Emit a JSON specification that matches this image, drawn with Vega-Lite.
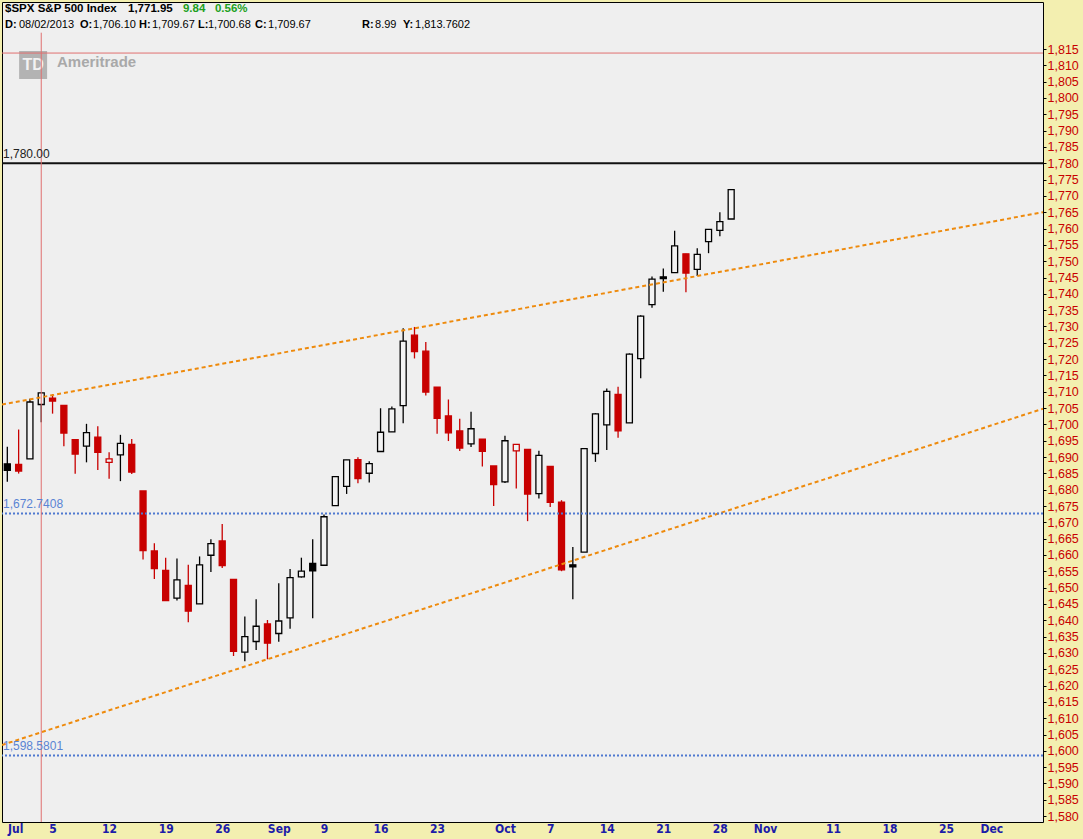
{
  "$schema": "https://vega.github.io/schema/vega-lite/v6.json",
  "autosize": {"type": "none"},
  "width": 1041,
  "height": 820,
  "padding": {"left": 2, "top": 2, "right": 40, "bottom": 17},
  "background": "#f3efb0",
  "config": {
    "view": {"fill": "#efefef", "stroke": "#000000", "strokeWidth": 1},
    "text": {"font": "Liberation Sans, Arial, sans-serif"},
    "axisY": {"labelOverlap": false, "tickCount": 50, "labelSeparation": 0, "labelFontSize": 12.5, "labelColor": "#c80000", "labelFont": "Liberation Sans, Arial, sans-serif", "labelPadding": 1, "tickSize": 3, "tickColor": "#000000"}
  },
  "datasets": {
    "candles": [
      {"i": 0, "d": "2013-07-30", "o": 1687.92, "h": 1693.19, "l": 1682.42, "c": 1685.96, "t": "up"},
      {"i": 1, "d": "2013-07-31", "o": 1687.76, "h": 1698.43, "l": 1684.94, "c": 1685.73, "t": "down"},
      {"i": 2, "d": "2013-08-01", "o": 1689.42, "h": 1707.85, "l": 1689.42, "c": 1706.87, "t": "up"},
      {"i": 3, "d": "2013-08-02", "o": 1706.10, "h": 1709.67, "l": 1700.68, "c": 1709.67, "t": "up"},
      {"i": 4, "d": "2013-08-05", "o": 1708.01, "h": 1709.24, "l": 1703.3, "c": 1707.14, "t": "down"},
      {"i": 5, "d": "2013-08-06", "o": 1705.79, "h": 1705.79, "l": 1693.29, "c": 1697.37, "t": "down"},
      {"i": 6, "d": "2013-08-07", "o": 1695.30, "h": 1695.30, "l": 1684.91, "c": 1690.91, "t": "down"},
      {"i": 7, "d": "2013-08-08", "o": 1693.35, "h": 1700.18, "l": 1688.38, "c": 1697.48, "t": "up"},
      {"i": 8, "d": "2013-08-09", "o": 1696.10, "h": 1699.42, "l": 1686.02, "c": 1691.42, "t": "down"},
      {"i": 9, "d": "2013-08-12", "o": 1688.37, "h": 1691.49, "l": 1683.35, "c": 1689.47, "t": "down"},
      {"i": 10, "d": "2013-08-13", "o": 1690.65, "h": 1696.81, "l": 1682.62, "c": 1694.16, "t": "up"},
      {"i": 11, "d": "2013-08-14", "o": 1693.88, "h": 1695.52, "l": 1684.83, "c": 1685.39, "t": "down"},
      {"i": 12, "d": "2013-08-15", "o": 1679.61, "h": 1679.61, "l": 1658.59, "c": 1661.32, "t": "down"},
      {"i": 13, "d": "2013-08-16", "o": 1661.22, "h": 1663.60, "l": 1652.61, "c": 1655.83, "t": "down"},
      {"i": 14, "d": "2013-08-19", "o": 1655.25, "h": 1659.18, "l": 1646.08, "c": 1646.06, "t": "down"},
      {"i": 15, "d": "2013-08-20", "o": 1646.81, "h": 1658.92, "l": 1646.08, "c": 1652.35, "t": "up"},
      {"i": 16, "d": "2013-08-21", "o": 1650.66, "h": 1656.99, "l": 1639.43, "c": 1642.80, "t": "down"},
      {"i": 17, "d": "2013-08-22", "o": 1645.03, "h": 1659.55, "l": 1645.03, "c": 1656.96, "t": "up"},
      {"i": 18, "d": "2013-08-23", "o": 1659.92, "h": 1664.85, "l": 1654.81, "c": 1663.50, "t": "up"},
      {"i": 19, "d": "2013-08-26", "o": 1664.29, "h": 1669.51, "l": 1656.02, "c": 1656.78, "t": "down"},
      {"i": 20, "d": "2013-08-27", "o": 1652.54, "h": 1652.54, "l": 1629.05, "c": 1630.48, "t": "down"},
      {"i": 21, "d": "2013-08-28", "o": 1630.25, "h": 1641.18, "l": 1627.47, "c": 1634.96, "t": "up"},
      {"i": 22, "d": "2013-08-29", "o": 1633.50, "h": 1646.41, "l": 1630.88, "c": 1638.17, "t": "up"},
      {"i": 23, "d": "2013-08-30", "o": 1638.89, "h": 1640.08, "l": 1628.05, "c": 1632.97, "t": "down"},
      {"i": 24, "d": "2013-09-03", "o": 1635.95, "h": 1651.35, "l": 1633.41, "c": 1639.77, "t": "up"},
      {"i": 25, "d": "2013-09-04", "o": 1640.72, "h": 1655.72, "l": 1637.41, "c": 1653.08, "t": "up"},
      {"i": 26, "d": "2013-09-05", "o": 1653.28, "h": 1659.17, "l": 1653.07, "c": 1655.08, "t": "up"},
      {"i": 27, "d": "2013-09-06", "o": 1657.44, "h": 1664.83, "l": 1640.62, "c": 1655.17, "t": "up"},
      {"i": 28, "d": "2013-09-09", "o": 1656.85, "h": 1672.40, "l": 1656.85, "c": 1671.71, "t": "up"},
      {"i": 29, "d": "2013-09-10", "o": 1675.11, "h": 1684.09, "l": 1675.11, "c": 1683.99, "t": "up"},
      {"i": 30, "d": "2013-09-11", "o": 1681.04, "h": 1689.13, "l": 1678.70, "c": 1689.13, "t": "up"},
      {"i": 31, "d": "2013-09-12", "o": 1689.21, "h": 1689.97, "l": 1681.96, "c": 1683.42, "t": "down"},
      {"i": 32, "d": "2013-09-13", "o": 1685.04, "h": 1688.73, "l": 1682.22, "c": 1687.99, "t": "up"},
      {"i": 33, "d": "2013-09-16", "o": 1691.70, "h": 1704.95, "l": 1691.70, "c": 1697.60, "t": "up"},
      {"i": 34, "d": "2013-09-17", "o": 1697.73, "h": 1705.52, "l": 1697.73, "c": 1704.76, "t": "up"},
      {"i": 35, "d": "2013-09-18", "o": 1705.74, "h": 1729.44, "l": 1700.35, "c": 1725.52, "t": "up"},
      {"i": 36, "d": "2013-09-19", "o": 1727.34, "h": 1729.86, "l": 1720.20, "c": 1722.34, "t": "down"},
      {"i": 37, "d": "2013-09-20", "o": 1722.44, "h": 1725.23, "l": 1708.89, "c": 1709.91, "t": "down"},
      {"i": 38, "d": "2013-09-23", "o": 1711.44, "h": 1711.44, "l": 1697.10, "c": 1701.84, "t": "down"},
      {"i": 39, "d": "2013-09-24", "o": 1702.60, "h": 1707.63, "l": 1694.90, "c": 1697.42, "t": "down"},
      {"i": 40, "d": "2013-09-25", "o": 1698.02, "h": 1701.71, "l": 1691.88, "c": 1692.77, "t": "down"},
      {"i": 41, "d": "2013-09-26", "o": 1694.05, "h": 1703.85, "l": 1693.11, "c": 1698.67, "t": "up"},
      {"i": 42, "d": "2013-09-27", "o": 1695.52, "h": 1695.52, "l": 1687.11, "c": 1691.75, "t": "down"},
      {"i": 43, "d": "2013-09-30", "o": 1687.26, "h": 1687.26, "l": 1674.99, "c": 1681.55, "t": "down"},
      {"i": 44, "d": "2013-10-01", "o": 1682.41, "h": 1696.55, "l": 1682.07, "c": 1695.00, "t": "up"},
      {"i": 45, "d": "2013-10-02", "o": 1691.90, "h": 1693.87, "l": 1680.34, "c": 1693.87, "t": "down"},
      {"i": 46, "d": "2013-10-03", "o": 1692.35, "h": 1692.35, "l": 1670.36, "c": 1678.66, "t": "down"},
      {"i": 47, "d": "2013-10-04", "o": 1678.79, "h": 1691.94, "l": 1677.33, "c": 1690.50, "t": "up"},
      {"i": 48, "d": "2013-10-07", "o": 1687.15, "h": 1687.15, "l": 1674.70, "c": 1676.12, "t": "down"},
      {"i": 49, "d": "2013-10-08", "o": 1676.22, "h": 1676.79, "l": 1655.03, "c": 1655.45, "t": "down"},
      {"i": 50, "d": "2013-10-09", "o": 1656.99, "h": 1662.47, "l": 1646.47, "c": 1656.40, "t": "up"},
      {"i": 51, "d": "2013-10-10", "o": 1660.88, "h": 1692.56, "l": 1660.88, "c": 1692.56, "t": "up"},
      {"i": 52, "d": "2013-10-11", "o": 1691.09, "h": 1703.44, "l": 1688.52, "c": 1703.20, "t": "up"},
      {"i": 53, "d": "2013-10-14", "o": 1699.86, "h": 1711.03, "l": 1692.13, "c": 1710.14, "t": "up"},
      {"i": 54, "d": "2013-10-15", "o": 1709.17, "h": 1711.57, "l": 1695.93, "c": 1698.06, "t": "down"},
      {"i": 55, "d": "2013-10-16", "o": 1700.49, "h": 1721.76, "l": 1700.49, "c": 1721.54, "t": "up"},
      {"i": 56, "d": "2013-10-17", "o": 1720.17, "h": 1733.45, "l": 1714.12, "c": 1733.15, "t": "up"},
      {"i": 57, "d": "2013-10-18", "o": 1736.72, "h": 1745.31, "l": 1735.74, "c": 1744.50, "t": "up"},
      {"i": 58, "d": "2013-10-21", "o": 1745.20, "h": 1747.79, "l": 1740.67, "c": 1744.66, "t": "up"},
      {"i": 59, "d": "2013-10-22", "o": 1746.48, "h": 1759.33, "l": 1746.48, "c": 1754.67, "t": "up"},
      {"i": 60, "d": "2013-10-23", "o": 1752.27, "h": 1752.27, "l": 1740.50, "c": 1746.38, "t": "down"},
      {"i": 61, "d": "2013-10-24", "o": 1747.48, "h": 1753.94, "l": 1745.50, "c": 1752.07, "t": "up"},
      {"i": 62, "d": "2013-10-25", "o": 1756.01, "h": 1759.82, "l": 1752.45, "c": 1759.77, "t": "up"},
      {"i": 63, "d": "2013-10-28", "o": 1759.42, "h": 1764.99, "l": 1757.67, "c": 1762.11, "t": "up"},
      {"i": 64, "d": "2013-10-29", "o": 1762.93, "h": 1772.09, "l": 1762.93, "c": 1771.95, "t": "up"}
    ],
    "trend": [
      {"line": "upper", "i": -0.47, "v": 1706.1},
      {"line": "upper", "i": 91.57, "v": 1765.0},
      {"line": "lower", "i": -0.47, "v": 1601.8},
      {"line": "lower", "i": 91.57, "v": 1704.8}
    ]
  },
  "layer": [
    {
      "data": {"name": "candles"},
      "mark": {"type": "rule", "strokeWidth": 1.3},
      "encoding": {
        "x": {
          "field": "i", "type": "quantitative",
          "scale": {"domain": [-0.47, 91.57], "nice": false, "zero": false, "padding": 0},
          "axis": {
            "title": null, "grid": false, "domain": false, "ticks": false,
            "values": [0.7, 4, 9, 14, 19, 24, 28, 33, 38, 44, 48, 53, 58, 63, 67, 73, 78, 83, 87],
            "labelExpr": "['Jul','5','12','19','26','Sep','9','16','23','Oct','7','14','21','28','Nov','11','18','25','Dec'][indexof([0.7,4,9,14,19,24,28,33,38,44,48,53,58,63,67,73,78,83,87], datum.value)]",
            "labelFont": "Liberation Sans Narrow, DejaVu Sans Condensed, Arial Narrow, sans-serif",
            "labelFontWeight": "bold", "labelFontSize": 12, "labelColor": "#1c1ca8",
            "labelPadding": 1, "labelOverlap": false, "labelBound": false, "labelFlush": false
          }
        },
        "y": {
          "field": "l", "type": "quantitative",
          "scale": {"domain": [1578.2, 1829.4], "nice": false, "zero": false, "padding": 0},
          "axis": {
            "title": null, "orient": "right", "grid": false, "domain": false,
            "values": [1580,1585,1590,1595,1600,1605,1610,1615,1620,1625,1630,1635,1640,1645,1650,1655,1660,1665,1670,1675,1680,1685,1690,1695,1700,1705,1710,1715,1720,1725,1730,1735,1740,1745,1750,1755,1760,1765,1770,1775,1780,1785,1790,1795,1800,1805,1810,1815],
            "tickCount": 50,
            "format": ",d", "tickSize": 3, "tickColor": "#000000",
            "labelFont": "Liberation Sans, Arial, sans-serif", "labelFontSize": 12.5,
            "labelColor": "#c80000", "labelPadding": 1, "labelOverlap": false, "labelSeparation": 0, "labelBound": false, "labelFlush": false
          }
        },
        "y2": {"field": "h"},
        "color": {"field": "t", "type": "nominal", "scale": {"domain": ["up", "down"], "range": ["#000000", "#c80000"]}, "legend": null}
      }
    },
    {
      "data": {"name": "candles"},
      "mark": {"type": "bar", "width": 6, "strokeWidth": 1.3, "orient": "vertical"},
      "encoding": {
        "x": {"field": "i", "type": "quantitative"},
        "y": {"field": "o", "type": "quantitative", "axis": {"orient": "right"}},
        "y2": {"field": "c"},
        "stroke": {"field": "t", "type": "nominal", "scale": {"domain": ["up", "down"], "range": ["#000000", "#c80000"]}, "legend": null},
        "fill": {
          "condition": {"test": "datum.c > datum.o", "value": "#f3f3f3"},
          "field": "t", "type": "nominal", "scale": {"domain": ["up", "down"], "range": ["#000000", "#c80000"]}, "legend": null
        },
        "fillOpacity": {"value": 1}
      }
    },
    {
      "data": {"values": [{"logo": "TD"}]},
      "mark": {"type": "point", "shape": "square", "size": 784, "filled": true, "color": "#b3b3b3", "opacity": 1},
      "encoding": {"x": {"datum": 2.28}, "y": {"datum": 1810.1, "axis": {"orient": "right"}}}
    },
    {
      "data": {"values": [{"logo": "TD"}]},
      "mark": {"type": "text", "fontWeight": "bold", "fontSize": 16, "color": "#f2f2f2", "align": "center", "baseline": "middle"},
      "encoding": {"x": {"datum": 2.28}, "y": {"datum": 1810.1, "axis": {"orient": "right"}}, "text": {"field": "logo"}}
    },
    {
      "data": {"values": [{"brand": "Ameritrade"}]},
      "mark": {"type": "text", "fontWeight": "bold", "fontSize": 15, "color": "#a9a9a9", "align": "left", "baseline": "middle"},
      "encoding": {"x": {"datum": 4.39}, "y": {"datum": 1810.9, "axis": {"orient": "right"}}, "text": {"field": "brand"}}
    },
    {
      "data": {"name": "trend"},
      "mark": {"type": "line", "color": "#ee8a0c", "strokeWidth": 2, "strokeDash": [4, 3], "clip": true},
      "encoding": {
        "x": {"field": "i", "type": "quantitative"},
        "y": {"field": "v", "type": "quantitative", "axis": {"orient": "right"}},
        "detail": {"field": "line"}
      }
    },
    {
      "data": {"values": [{"v": 1780}]},
      "mark": {"type": "rule", "color": "#111111", "strokeWidth": 2},
      "encoding": {"y": {"field": "v", "type": "quantitative", "axis": {"orient": "right"}}}
    },
    {
      "data": {"values": [{"v": 1672.7408}, {"v": 1598.5801}]},
      "mark": {"type": "rule", "color": "#4f79d0", "strokeWidth": 2, "strokeDash": [2, 2]},
      "encoding": {"y": {"field": "v", "type": "quantitative", "axis": {"orient": "right"}}}
    },
    {
      "data": {"values": [{"v": 1813.7602}]},
      "mark": {"type": "rule", "color": "#e07070", "strokeWidth": 1},
      "encoding": {"y": {"field": "v", "type": "quantitative", "axis": {"orient": "right"}}}
    },
    {
      "data": {"values": [{"i": 3}]},
      "mark": {"type": "rule", "color": "#e07070", "strokeWidth": 1},
      "encoding": {"x": {"field": "i", "type": "quantitative"}, "y": {"datum": 1820, "axis": {"orient": "right"}}, "y2": {"datum": 1578.2}}
    },
    {
      "data": {"values": [{"v": 1780, "label": "1,780.00"}]},
      "mark": {"type": "text", "align": "left", "baseline": "bottom", "fontSize": 12, "color": "#222222", "dx": 1, "dy": -2},
      "encoding": {"x": {"datum": -0.47}, "y": {"field": "v", "type": "quantitative", "axis": {"orient": "right"}}, "text": {"field": "label"}}
    },
    {
      "data": {"values": [{"v": 1672.7408, "label": "1,672.7408"}, {"v": 1598.5801, "label": "1,598.5801"}]},
      "mark": {"type": "text", "align": "left", "baseline": "bottom", "fontSize": 12, "color": "#5a84d4", "dx": 1, "dy": -2},
      "encoding": {"x": {"datum": -0.47}, "y": {"field": "v", "type": "quantitative", "axis": {"orient": "right"}}, "text": {"field": "label"}}
    },
    {
      "data": {"values": [{"s": "$SPX S&P 500 Index"}]},
      "mark": {"type": "text", "align": "left", "baseline": "middle", "fontSize": 11.5, "fontWeight": "bold", "color": "#000000"},
      "encoding": {"x": {"datum": -0.2}, "y": {"datum": 1827.2, "axis": {"orient": "right"}}, "text": {"field": "s"}}
    },
    {
      "data": {"values": [{"s": "1,771.95"}]},
      "mark": {"type": "text", "align": "left", "baseline": "middle", "fontSize": 11.5, "fontWeight": "bold", "color": "#000000"},
      "encoding": {"x": {"datum": 10.67}, "y": {"datum": 1827.2, "axis": {"orient": "right"}}, "text": {"field": "s"}}
    },
    {
      "data": {"values": [{"s": "9.84"}]},
      "mark": {"type": "text", "align": "left", "baseline": "middle", "fontSize": 11.5, "fontWeight": "bold", "color": "#20a020"},
      "encoding": {"x": {"datum": 15.53}, "y": {"datum": 1827.2, "axis": {"orient": "right"}}, "text": {"field": "s"}}
    },
    {
      "data": {"values": [{"s": "0.56%"}]},
      "mark": {"type": "text", "align": "left", "baseline": "middle", "fontSize": 11.5, "fontWeight": "bold", "color": "#20a020"},
      "encoding": {"x": {"datum": 18.36}, "y": {"datum": 1827.2, "axis": {"orient": "right"}}, "text": {"field": "s"}}
    },
    {
      "data": {"values": [{"s": "D:", "x": -0.2}, {"s": "O:", "x": 6.43}, {"s": "H:", "x": 11.64}, {"s": "L:", "x": 16.86}, {"s": "C:", "x": 21.9}, {"s": "R:", "x": 31.36}, {"s": "Y:", "x": 34.99}]},
      "mark": {"type": "text", "align": "left", "baseline": "middle", "fontSize": 11, "fontWeight": "bold", "color": "#000000"},
      "encoding": {"x": {"field": "x", "type": "quantitative"}, "y": {"datum": 1822.3, "axis": {"orient": "right"}}, "text": {"field": "s"}}
    },
    {
      "data": {"values": [{"s": "08/02/2013", "x": 1.03}, {"s": "1,706.10", "x": 7.58}, {"s": "1,709.67", "x": 12.79}, {"s": "1,700.68", "x": 17.74}, {"s": "1,709.67", "x": 23.05}, {"s": "8.99", "x": 32.51}, {"s": "1,813.7602", "x": 36.05}]},
      "mark": {"type": "text", "align": "left", "baseline": "middle", "fontSize": 11, "color": "#000000"},
      "encoding": {"x": {"field": "x", "type": "quantitative"}, "y": {"datum": 1822.3, "axis": {"orient": "right"}}, "text": {"field": "s"}}
    }
  ]
}
